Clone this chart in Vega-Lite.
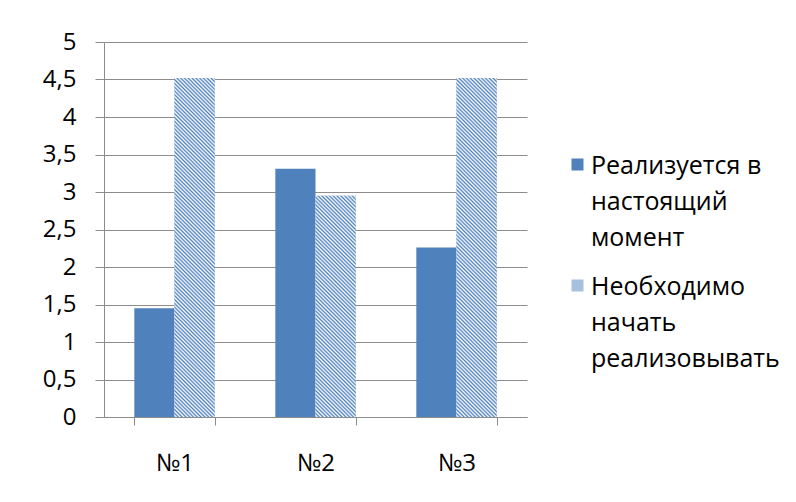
{
  "$schema": "https://vega.github.io/schema/vega-lite/v6.json",
  "width": 423,
  "height": 375,
  "autosize": {"type": "none"},
  "padding": {"left": 104, "top": 42, "right": 269, "bottom": 85},
  "background": "white",
  "params": [
    {"name": "hs", "value": [
      {"offset":0,"color":"#4F81BD"},{"offset":0.005,"color":"#fff"},{"offset":0.01,"color":"#4F81BD"},{"offset":0.015,"color":"#fff"},{"offset":0.02,"color":"#4F81BD"},{"offset":0.025,"color":"#fff"},{"offset":0.03,"color":"#4F81BD"},{"offset":0.035,"color":"#fff"},{"offset":0.04,"color":"#4F81BD"},{"offset":0.045,"color":"#fff"},
      {"offset":0.05,"color":"#4F81BD"},{"offset":0.055,"color":"#fff"},{"offset":0.06,"color":"#4F81BD"},{"offset":0.065,"color":"#fff"},{"offset":0.07,"color":"#4F81BD"},{"offset":0.075,"color":"#fff"},{"offset":0.08,"color":"#4F81BD"},{"offset":0.085,"color":"#fff"},{"offset":0.09,"color":"#4F81BD"},{"offset":0.095,"color":"#fff"},
      {"offset":0.1,"color":"#4F81BD"},{"offset":0.105,"color":"#fff"},{"offset":0.11,"color":"#4F81BD"},{"offset":0.115,"color":"#fff"},{"offset":0.12,"color":"#4F81BD"},{"offset":0.125,"color":"#fff"},{"offset":0.13,"color":"#4F81BD"},{"offset":0.135,"color":"#fff"},{"offset":0.14,"color":"#4F81BD"},{"offset":0.145,"color":"#fff"},
      {"offset":0.15,"color":"#4F81BD"},{"offset":0.155,"color":"#fff"},{"offset":0.16,"color":"#4F81BD"},{"offset":0.165,"color":"#fff"},{"offset":0.17,"color":"#4F81BD"},{"offset":0.175,"color":"#fff"},{"offset":0.18,"color":"#4F81BD"},{"offset":0.185,"color":"#fff"},{"offset":0.19,"color":"#4F81BD"},{"offset":0.195,"color":"#fff"},
      {"offset":0.2,"color":"#4F81BD"},{"offset":0.205,"color":"#fff"},{"offset":0.21,"color":"#4F81BD"},{"offset":0.215,"color":"#fff"},{"offset":0.22,"color":"#4F81BD"},{"offset":0.225,"color":"#fff"},{"offset":0.23,"color":"#4F81BD"},{"offset":0.235,"color":"#fff"},{"offset":0.24,"color":"#4F81BD"},{"offset":0.245,"color":"#fff"},
      {"offset":0.25,"color":"#4F81BD"},{"offset":0.255,"color":"#fff"},{"offset":0.26,"color":"#4F81BD"},{"offset":0.265,"color":"#fff"},{"offset":0.27,"color":"#4F81BD"},{"offset":0.275,"color":"#fff"},{"offset":0.28,"color":"#4F81BD"},{"offset":0.285,"color":"#fff"},{"offset":0.29,"color":"#4F81BD"},{"offset":0.295,"color":"#fff"},
      {"offset":0.3,"color":"#4F81BD"},{"offset":0.305,"color":"#fff"},{"offset":0.31,"color":"#4F81BD"},{"offset":0.315,"color":"#fff"},{"offset":0.32,"color":"#4F81BD"},{"offset":0.325,"color":"#fff"},{"offset":0.33,"color":"#4F81BD"},{"offset":0.335,"color":"#fff"},{"offset":0.34,"color":"#4F81BD"},{"offset":0.345,"color":"#fff"},
      {"offset":0.35,"color":"#4F81BD"},{"offset":0.355,"color":"#fff"},{"offset":0.36,"color":"#4F81BD"},{"offset":0.365,"color":"#fff"},{"offset":0.37,"color":"#4F81BD"},{"offset":0.375,"color":"#fff"},{"offset":0.38,"color":"#4F81BD"},{"offset":0.385,"color":"#fff"},{"offset":0.39,"color":"#4F81BD"},{"offset":0.395,"color":"#fff"},
      {"offset":0.4,"color":"#4F81BD"},{"offset":0.405,"color":"#fff"},{"offset":0.41,"color":"#4F81BD"},{"offset":0.415,"color":"#fff"},{"offset":0.42,"color":"#4F81BD"},{"offset":0.425,"color":"#fff"},{"offset":0.43,"color":"#4F81BD"},{"offset":0.435,"color":"#fff"},{"offset":0.44,"color":"#4F81BD"},{"offset":0.445,"color":"#fff"},
      {"offset":0.45,"color":"#4F81BD"},{"offset":0.455,"color":"#fff"},{"offset":0.46,"color":"#4F81BD"},{"offset":0.465,"color":"#fff"},{"offset":0.47,"color":"#4F81BD"},{"offset":0.475,"color":"#fff"},{"offset":0.48,"color":"#4F81BD"},{"offset":0.485,"color":"#fff"},{"offset":0.49,"color":"#4F81BD"},{"offset":0.495,"color":"#fff"},
      {"offset":0.5,"color":"#4F81BD"},{"offset":0.505,"color":"#fff"},{"offset":0.51,"color":"#4F81BD"},{"offset":0.515,"color":"#fff"},{"offset":0.52,"color":"#4F81BD"},{"offset":0.525,"color":"#fff"},{"offset":0.53,"color":"#4F81BD"},{"offset":0.535,"color":"#fff"},{"offset":0.54,"color":"#4F81BD"},{"offset":0.545,"color":"#fff"},
      {"offset":0.55,"color":"#4F81BD"},{"offset":0.555,"color":"#fff"},{"offset":0.56,"color":"#4F81BD"},{"offset":0.565,"color":"#fff"},{"offset":0.57,"color":"#4F81BD"},{"offset":0.575,"color":"#fff"},{"offset":0.58,"color":"#4F81BD"},{"offset":0.585,"color":"#fff"},{"offset":0.59,"color":"#4F81BD"},{"offset":0.595,"color":"#fff"},
      {"offset":0.6,"color":"#4F81BD"},{"offset":0.605,"color":"#fff"},{"offset":0.61,"color":"#4F81BD"},{"offset":0.615,"color":"#fff"},{"offset":0.62,"color":"#4F81BD"},{"offset":0.625,"color":"#fff"},{"offset":0.63,"color":"#4F81BD"},{"offset":0.635,"color":"#fff"},{"offset":0.64,"color":"#4F81BD"},{"offset":0.645,"color":"#fff"},
      {"offset":0.65,"color":"#4F81BD"},{"offset":0.655,"color":"#fff"},{"offset":0.66,"color":"#4F81BD"},{"offset":0.665,"color":"#fff"},{"offset":0.67,"color":"#4F81BD"},{"offset":0.675,"color":"#fff"},{"offset":0.68,"color":"#4F81BD"},{"offset":0.685,"color":"#fff"},{"offset":0.69,"color":"#4F81BD"},{"offset":0.695,"color":"#fff"},
      {"offset":0.7,"color":"#4F81BD"},{"offset":0.705,"color":"#fff"},{"offset":0.71,"color":"#4F81BD"},{"offset":0.715,"color":"#fff"},{"offset":0.72,"color":"#4F81BD"},{"offset":0.725,"color":"#fff"},{"offset":0.73,"color":"#4F81BD"},{"offset":0.735,"color":"#fff"},{"offset":0.74,"color":"#4F81BD"},{"offset":0.745,"color":"#fff"},
      {"offset":0.75,"color":"#4F81BD"},{"offset":0.755,"color":"#fff"},{"offset":0.76,"color":"#4F81BD"},{"offset":0.765,"color":"#fff"},{"offset":0.77,"color":"#4F81BD"},{"offset":0.775,"color":"#fff"},{"offset":0.78,"color":"#4F81BD"},{"offset":0.785,"color":"#fff"},{"offset":0.79,"color":"#4F81BD"},{"offset":0.795,"color":"#fff"},
      {"offset":0.8,"color":"#4F81BD"},{"offset":0.805,"color":"#fff"},{"offset":0.81,"color":"#4F81BD"},{"offset":0.815,"color":"#fff"},{"offset":0.82,"color":"#4F81BD"},{"offset":0.825,"color":"#fff"},{"offset":0.83,"color":"#4F81BD"},{"offset":0.835,"color":"#fff"},{"offset":0.84,"color":"#4F81BD"},{"offset":0.845,"color":"#fff"},
      {"offset":0.85,"color":"#4F81BD"},{"offset":0.855,"color":"#fff"},{"offset":0.86,"color":"#4F81BD"},{"offset":0.865,"color":"#fff"},{"offset":0.87,"color":"#4F81BD"},{"offset":0.875,"color":"#fff"},{"offset":0.88,"color":"#4F81BD"},{"offset":0.885,"color":"#fff"},{"offset":0.89,"color":"#4F81BD"},{"offset":0.895,"color":"#fff"},
      {"offset":0.9,"color":"#4F81BD"},{"offset":0.905,"color":"#fff"},{"offset":0.91,"color":"#4F81BD"},{"offset":0.915,"color":"#fff"},{"offset":0.92,"color":"#4F81BD"},{"offset":0.925,"color":"#fff"},{"offset":0.93,"color":"#4F81BD"},{"offset":0.935,"color":"#fff"},{"offset":0.94,"color":"#4F81BD"},{"offset":0.945,"color":"#fff"},
      {"offset":0.95,"color":"#4F81BD"},{"offset":0.955,"color":"#fff"},{"offset":0.96,"color":"#4F81BD"},{"offset":0.965,"color":"#fff"},{"offset":0.97,"color":"#4F81BD"},{"offset":0.975,"color":"#fff"},{"offset":0.98,"color":"#4F81BD"},{"offset":0.985,"color":"#fff"},{"offset":0.99,"color":"#4F81BD"},{"offset":0.995,"color":"#fff"},
      {"offset":1,"color":"#4F81BD"}
    ]}
  ],
  "data": {
    "values": [
      {"cat": "№1", "series": "Реализуется в настоящий момент", "value": 1.45},
      {"cat": "№1", "series": "Необходимо начать реализовывать", "value": 4.52},
      {"cat": "№2", "series": "Реализуется в настоящий момент", "value": 3.31},
      {"cat": "№2", "series": "Необходимо начать реализовывать", "value": 2.95},
      {"cat": "№3", "series": "Реализуется в настоящий момент", "value": 2.26},
      {"cat": "№3", "series": "Необходимо начать реализовывать", "value": 4.52}
    ]
  },
  "encoding": {
    "x": {
      "field": "cat", "type": "nominal",
      "scale": {"paddingInner": 0.43, "paddingOuter": 0.215},
      "axis": {"title": null, "labelAngle": 0, "tickBand": "extent", "tickSize": 8, "labelPadding": 37, "labelBaseline": "top", "grid": false}
    },
    "xOffset": {
      "field": "series", "type": "nominal",
      "scale": {"domain": ["Реализуется в настоящий момент", "Необходимо начать реализовывать"], "padding": 0}
    },
    "y": {
      "field": "value", "type": "quantitative",
      "scale": {"domain": [0, 5], "nice": false},
      "axis": {"title": null, "values": [0, 0.5, 1, 1.5, 2, 2.5, 3, 3.5, 4, 4.5, 5], "labelExpr": "replace(format(datum.value, '~g'), '.', ',')", "tickSize": 9, "labelPadding": 19, "labelOffset": 11, "grid": true}
    }
  },
  "layer": [
    {
      "mark": {"type": "bar", "strokeWidth": 0},
      "encoding": {
        "fill": {
          "field": "series", "type": "nominal",
          "scale": {"domain": ["Реализуется в настоящий момент", "Необходимо начать реализовывать"], "range": ["#4F81BD", "#A7C0DE"]},
          "legend": {
            "title": null,
            "orient": "none",
            "legendX": 461,
            "legendY": 110,
            "labelExpr": "datum.label === 'Реализуется в настоящий момент' ? ['Реализуется в', 'настоящий', 'момент'] : ['Необходимо', 'начать', 'реализовывать']"
          }
        }
      }
    },
    {
      "transform": [{"filter": "datum.series === 'Необходимо начать реализовывать'"}],
      "mark": {"type": "bar", "strokeWidth": 0, "fill": {"expr": "datum.cat === '№2' ? {gradient: 'linear', x1: 0, y1: 1, x2: 0.3014, y2: -0.6592, stops: hs} : {gradient: 'linear', x1: 0, y1: 1, x2: 0.1308, y2: -0.1031, stops: hs}"}}
    }
  ],
  "config": {
    "view": {"stroke": null},
    "font": "Open Sans",
    "style": {"guide-label": {"lineHeight": 36, "dy": -11}},
    "axis": {
      "labelFont": "Open Sans",
      "labelFontSize": 24,
      "labelColor": "#000000",
      "domainColor": "#8c8c8c",
      "tickColor": "#8c8c8c",
      "gridColor": "#8c8c8c",
      "domainWidth": 1,
      "tickWidth": 1,
      "gridWidth": 1
    },
    "legend": {
      "labelFont": "Open Sans",
      "labelFontSize": 25,
      "labelColor": "#000000",
      "labelBaseline": "top",
      "labelLimit": 300,
      "symbolType": "square",
      "symbolSize": 144,
      "symbolStrokeWidth": 0,
      "labelOffset": 1,
      "padding": 0,
      "rowPadding": 22
    }
  }
}
